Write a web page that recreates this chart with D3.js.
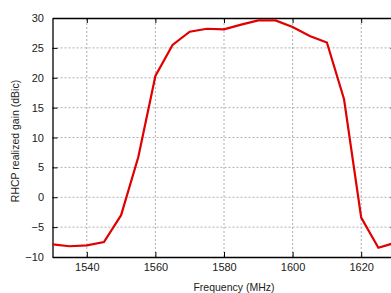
<!DOCTYPE html>
<html>
<head>
<meta charset="utf-8">
<script src="https://cdn.jsdelivr.net/npm/d3@7"></script>
<style>
body { margin: 0; background: #fff; }
svg { display: block; font-family: "Liberation Sans", Arial, sans-serif; }
</style>
</head>
<body>
<div id="chart"></div>
<script>
const freq = [1530,1535,1540,1545,1550,1555,1560,1565,1570,1575,1580,1585,1590,1595,1600,1605,1610,1615,1620,1625,1630]
const gain = [-7.9,-8.2,-8.05,-7.5,-3.0,6.7,20.3,25.5,27.7,28.2,28.1,28.9,29.6,29.6,28.5,27.0,25.9,16.4,-3.4,-8.45,-7.6]
const xTicks = [1540,1560,1580,1600,1620]
const yTicks = [-10,-5,0,5,10,15,20,25,30]

const W = 391, H = 293
const m = {left:52.5, top:18, right:-4.5, bottom:36}

const svg = d3.select("#chart").append("svg").attr("width",W).attr("height",H)

const x = d3.scaleLinear().domain([1530,1630]).range([m.left, W-m.right])
const y = d3.scaleLinear().domain([-10,30]).range([H-m.bottom, m.top])

// grid
svg.append("g").selectAll("line").data(xTicks).join("line")
	.attr("x1",d=>x(d)).attr("x2",d=>x(d)).attr("y1",y(-10)).attr("y2",y(30))
	.attr("stroke","#b0b0b0").attr("stroke-dasharray","2,2")
svg.append("g").selectAll("line").data(yTicks.slice(1,-1)).join("line")
	.attr("x1",x(1530)).attr("x2",x(1630)).attr("y1",d=>y(d)).attr("y2",d=>y(d))
	.attr("stroke","#b0b0b0").attr("stroke-dasharray","2,2")

// axes, ticks inward, mirrored
const fmt = d3.format("d")
const axBottom = svg.append("g").attr("transform","translate(0,"+y(-10)+")")
	.call(d3.axisBottom(x).tickValues(xTicks).tickFormat(fmt).tickSizeInner(-5).tickSizeOuter(0).tickPadding(6))
const axTop = svg.append("g").attr("transform","translate(0,"+y(30)+")")
	.call(d3.axisTop(x).tickValues(xTicks).tickSizeInner(-5).tickSizeOuter(0).tickFormat(""))
const axLeft = svg.append("g").attr("transform","translate("+x(1530)+",0)")
	.call(d3.axisLeft(y).tickValues(yTicks).tickFormat(fmt).tickSizeInner(-5).tickSizeOuter(0).tickPadding(8.5))
const axRight = svg.append("g").attr("transform","translate("+x(1630)+",0)")
	.call(d3.axisRight(y).tickValues(yTicks).tickSizeInner(-5).tickSizeOuter(0).tickFormat(""))

svg.selectAll(".domain").attr("stroke","#000").attr("stroke-width",1.3)
svg.selectAll(".tick line").attr("stroke","#000")
svg.selectAll(".tick text").attr("font-size",11).attr("fill","#222")
	.attr("font-family","'Liberation Sans', Arial, sans-serif")

// line
svg.append("path").datum(freq.map((f,i)=>[f,gain[i]]))
	.attr("fill","none").attr("stroke","#e00000").attr("stroke-width",2.2)
	.attr("stroke-linejoin","miter")
	.attr("d",d3.line().x(d=>x(d[0])).y(d=>y(d[1])))

// labels
svg.append("text").attr("x",234).attr("y",291).attr("text-anchor","middle")
	.attr("font-size",10.5).attr("fill","#222").text("Frequency (MHz)")
svg.append("text").attr("transform","translate(19,141) rotate(-90)")
	.attr("text-anchor","middle").attr("font-size",10.5).attr("fill","#222")
	.text("RHCP realized gain (dBic)")
</script>
</body>
</html>
